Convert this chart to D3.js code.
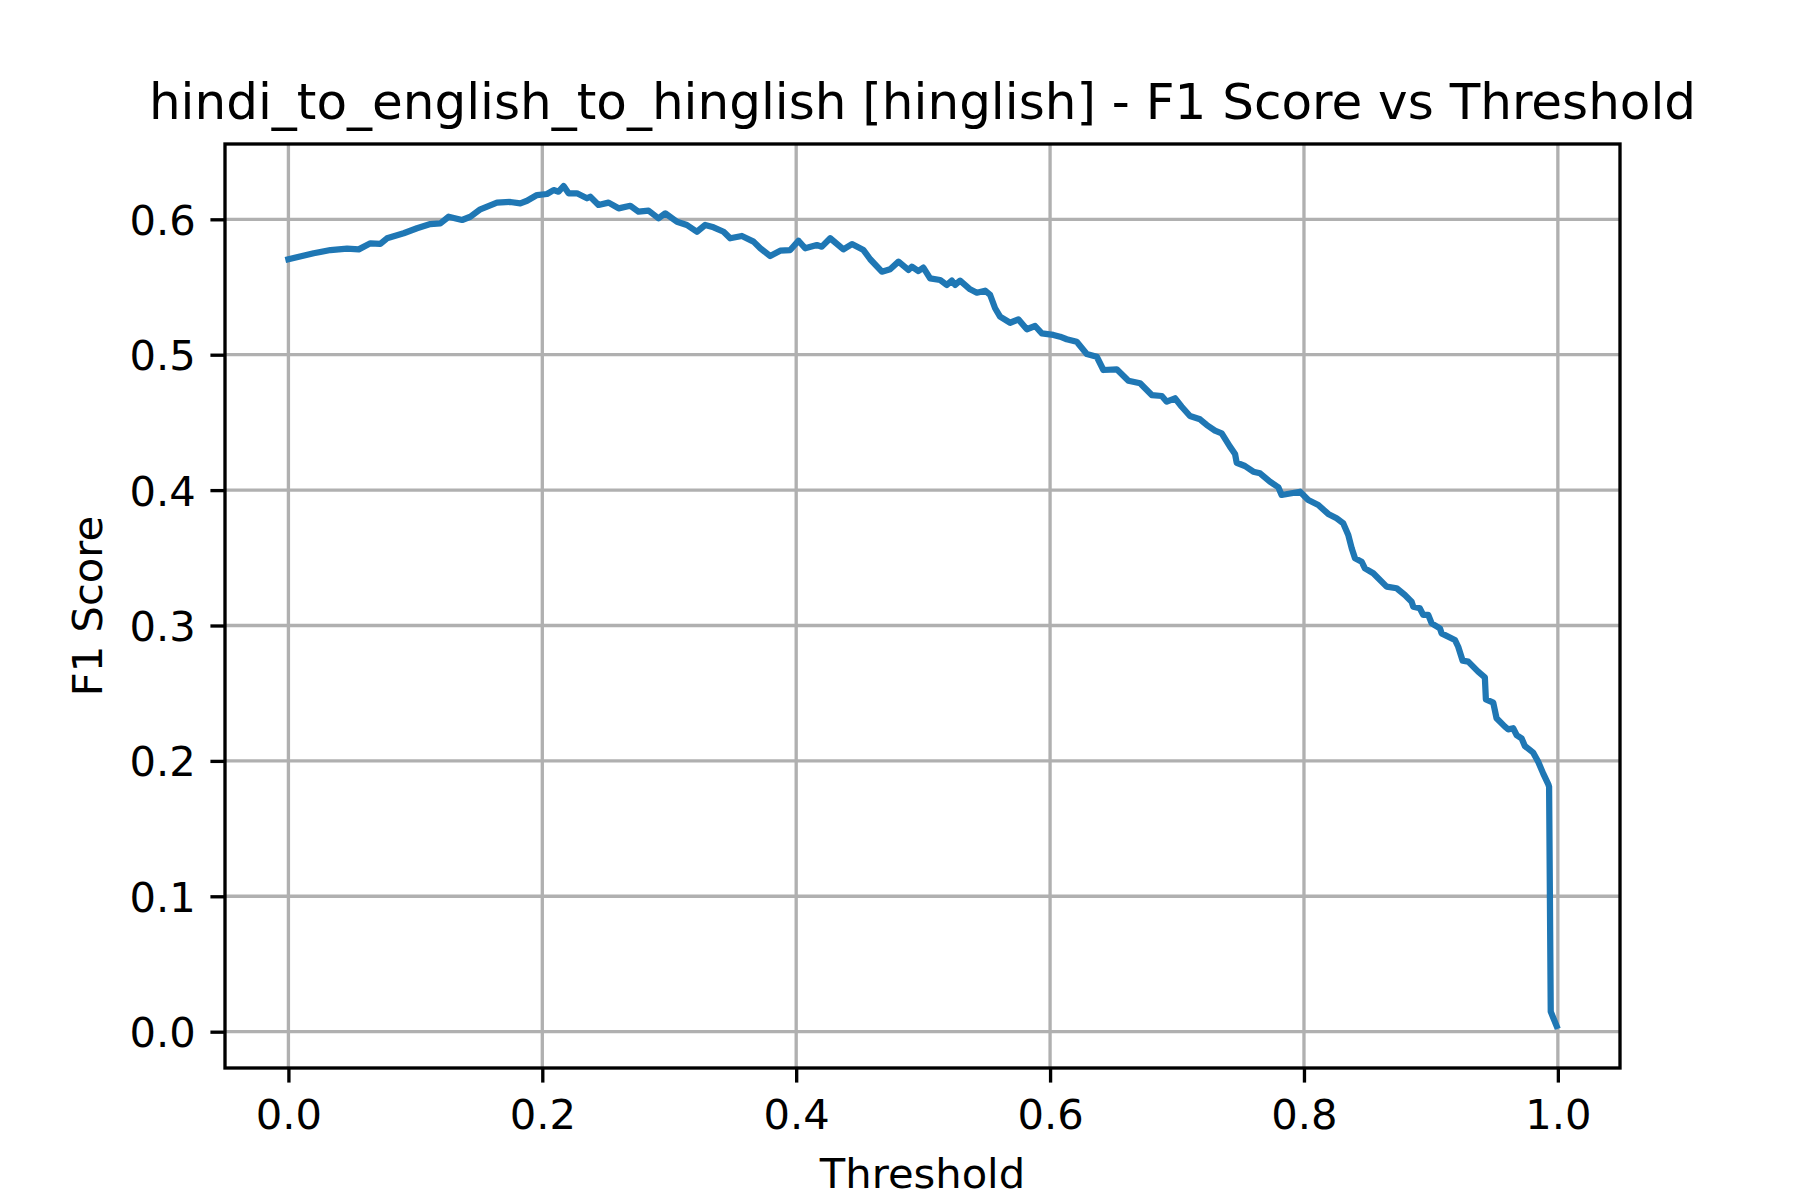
<!DOCTYPE html>
<html>
<head>
<meta charset="utf-8">
<script src="https://cdn.jsdelivr.net/npm/d3@7"></script>
<style>
  html, body { margin: 0; padding: 0; background: #fff; }
  svg { display: block; font-family: "DejaVu Sans", sans-serif; }
</style>
</head>
<body>
<svg id="chart" width="1800" height="1200"></svg>
<script>
// values
var thresholds = [
    0.0000, 0.0199, 0.0331, 0.0462, 0.0554, 0.0646, 0.0724, 0.0777, 0.0908, 0.1013,
    0.1118, 0.1197, 0.1262, 0.1368, 0.1433, 0.1512, 0.1643, 0.1748, 0.1827, 0.1880,
    0.1958, 0.2037, 0.2089, 0.2128, 0.2168, 0.2207, 0.2273, 0.2352, 0.2378, 0.2443,
    0.2522, 0.2601, 0.2693, 0.2758, 0.2837, 0.2916, 0.2969, 0.3061, 0.3139, 0.3218,
    0.3283, 0.3349, 0.3428, 0.3480, 0.3572, 0.3664, 0.3717, 0.3795, 0.3874, 0.3953,
    0.4018, 0.4071, 0.4163, 0.4202, 0.4268, 0.4372, 0.4439, 0.4530, 0.4583, 0.4675,
    0.4740, 0.4806, 0.4884, 0.4911, 0.4963, 0.5002, 0.5055, 0.5134, 0.5187, 0.5226,
    0.5252, 0.5291, 0.5370, 0.5423, 0.5488, 0.5528, 0.5567, 0.5606, 0.5685, 0.5750,
    0.5817, 0.5882, 0.5935, 0.6026, 0.6079, 0.6131, 0.6210, 0.6289, 0.6368, 0.6420,
    0.6525, 0.6617, 0.6709, 0.6801, 0.6880, 0.6919, 0.6984, 0.7037, 0.7102, 0.7181,
    0.7234, 0.7299, 0.7352, 0.7417, 0.7457, 0.7470, 0.7535, 0.7601, 0.7654, 0.7732,
    0.7798, 0.7824, 0.7969, 0.8034, 0.8113, 0.8191, 0.8257, 0.8309, 0.8349, 0.8376,
    0.8402, 0.8454, 0.8480, 0.8546, 0.8651, 0.8730, 0.8795, 0.8848, 0.8861, 0.8913,
    0.8939, 0.8979, 0.9006, 0.9071, 0.9084, 0.9189, 0.9215, 0.9250, 0.9294, 0.9372,
    0.9425, 0.9433, 0.9491, 0.9517, 0.9583, 0.9609, 0.9648, 0.9675, 0.9714, 0.9740,
    0.9806, 0.9845, 0.9884, 0.9924, 0.9931, 0.9944, 0.9990
];
var f1Scores = [
    0.5705, 0.5749, 0.5773, 0.5783, 0.5778, 0.5823, 0.5818, 0.5860, 0.5897, 0.5934,
    0.5965, 0.5970, 0.6019, 0.5995, 0.6019, 0.6074, 0.6123, 0.6128, 0.6118, 0.6137,
    0.6179, 0.6187, 0.6216, 0.6204, 0.6246, 0.6192, 0.6192, 0.6155, 0.6167, 0.6106,
    0.6123, 0.6081, 0.6100, 0.6056, 0.6064, 0.6007, 0.6044, 0.5982, 0.5958, 0.5908,
    0.5958, 0.5941, 0.5908, 0.5860, 0.5877, 0.5835, 0.5786, 0.5729, 0.5768, 0.5773,
    0.5842, 0.5786, 0.5810, 0.5798, 0.5860, 0.5778, 0.5817, 0.5773, 0.5705, 0.5613,
    0.5631, 0.5687, 0.5626, 0.5650, 0.5618, 0.5643, 0.5564, 0.5552, 0.5515, 0.5547,
    0.5515, 0.5547, 0.5483, 0.5458, 0.5473, 0.5441, 0.5343, 0.5281, 0.5236, 0.5261,
    0.5188, 0.5212, 0.5158, 0.5146, 0.5133, 0.5114, 0.5096, 0.5005, 0.4985, 0.4887,
    0.4892, 0.4808, 0.4789, 0.4702, 0.4695, 0.4653, 0.4678, 0.4616, 0.4547, 0.4523,
    0.4481, 0.4439, 0.4419, 0.4321, 0.4267, 0.4202, 0.4178, 0.4136, 0.4124, 0.4062,
    0.4021, 0.3964, 0.3988, 0.3927, 0.3890, 0.3824, 0.3792, 0.3755, 0.3669, 0.3570,
    0.3496, 0.3471, 0.3422, 0.3386, 0.3287, 0.3275, 0.3225, 0.3176, 0.3139, 0.3127,
    0.3078, 0.3078, 0.3016, 0.2979, 0.2942, 0.2893, 0.2843, 0.2740, 0.2733, 0.2659,
    0.2617, 0.2455, 0.2430, 0.2315, 0.2253, 0.2233, 0.2241, 0.2191, 0.2167, 0.2110,
    0.2061, 0.1994, 0.1908, 0.1829, 0.1809, 0.0148, 0.0042
];
var xTicks = [0, 0.2, 0.4, 0.6, 0.8, 1.0];
var yTicks = [0, 0.1, 0.2, 0.3, 0.4, 0.5, 0.6];

var title = "hindi_to_english_to_hinglish [hinglish] - F1 Score vs Threshold";

(function () {
    var width = 1800,
        height = 1200,
        margin = {left: 225, right: 180, top: 144, bottom: 132},
        pt = 300 / 72;   // px per point at 300 dpi

    var points = thresholds.map(function (t, i) {
        return {x: t, y: f1Scores[i]};
    });

    // matplotlib-style 5% margins around the data
    function padded(ext) {
        var d = (ext[1] - ext[0]) * 0.05;
        return [ext[0] - d, ext[1] + d];
    }

    var x = d3.scaleLinear()
        .domain(padded(d3.extent(thresholds)))
        .range([margin.left, width - margin.right]);
    var y = d3.scaleLinear()
        .domain(padded(d3.extent(f1Scores)))
        .range([height - margin.bottom, margin.top]);

    var svg = d3.select("#chart");

    svg.append("rect")
        .attr("width", width)
        .attr("height", height)
        .style("fill", "#fff");

    // grid
    var grid = svg.append("g").attr("class", "grid")
        .style("stroke", "#b0b0b0")
        .style("stroke-width", 0.8 * pt);
    grid.selectAll(".gx").data(xTicks).enter().append("line")
        .attr("x1", function (d) { return x(d); })
        .attr("x2", function (d) { return x(d); })
        .attr("y1", margin.top)
        .attr("y2", height - margin.bottom);
    grid.selectAll(".gy").data(yTicks).enter().append("line")
        .attr("x1", margin.left)
        .attr("x2", width - margin.right)
        .attr("y1", function (d) { return y(d); })
        .attr("y2", function (d) { return y(d); });

    // curve
    var line = d3.line()
        .x(function (d) { return x(d.x); })
        .y(function (d) { return y(d.y); });

    svg.append("path")
        .datum(points)
        .attr("d", line)
        .style("fill", "none")
        .style("stroke", "#1f77b4")
        .style("stroke-width", 1.5 * pt)
        .style("stroke-linejoin", "round")
        .style("stroke-linecap", "square");

    // axes
    var fmt = d3.format(".1f");
    var xAxis = d3.axisBottom(x)
        .tickValues(xTicks)
        .tickFormat(fmt)
        .tickSize(3.5 * pt)
        .tickPadding(3.5 * pt);
    var yAxis = d3.axisLeft(y)
        .tickValues(yTicks)
        .tickFormat(fmt)
        .tickSize(3.5 * pt)
        .tickPadding(3.5 * pt);

    var gx = svg.append("g")
        .attr("transform", "translate(0," + (height - margin.bottom) + ")")
        .call(xAxis);
    var gy = svg.append("g")
        .attr("transform", "translate(" + margin.left + ",0)")
        .call(yAxis);

    [gx, gy].forEach(function (g) {
        g.select(".domain").remove();
        g.selectAll(".tick line")
            .style("stroke", "#000")
            .style("stroke-width", 0.8 * pt);
        g.selectAll(".tick text")
            .style("font-family", "'DejaVu Sans', sans-serif")
            .style("font-size", (10 * pt) + "px")
            .style("fill", "#000");
    });
    gx.selectAll(".tick text").attr("dy", "0.76em");
    gy.selectAll(".tick text").attr("dy", "0.36em");

    // frame
    svg.append("rect")
        .attr("x", margin.left)
        .attr("y", margin.top)
        .attr("width", width - margin.left - margin.right)
        .attr("height", height - margin.top - margin.bottom)
        .style("fill", "none")
        .style("stroke", "#000")
        .style("stroke-width", 0.8 * pt);

    // labels
    svg.append("text")
        .attr("x", (margin.left + width - margin.right) / 2)
        .attr("y", 119)
        .attr("text-anchor", "middle")
        .style("font-size", (12 * pt) + "px")
        .text(title);

    svg.append("text")
        .attr("x", (margin.left + width - margin.right) / 2)
        .attr("y", 1188)
        .attr("text-anchor", "middle")
        .style("font-size", (10 * pt) + "px")
        .text("Threshold");

    svg.append("text")
        .attr("transform", "translate(102," + ((margin.top + height - margin.bottom) / 2) + ") rotate(-90)")
        .attr("text-anchor", "middle")
        .style("font-size", (10 * pt) + "px")
        .text("F1 Score");
}());
</script>
</body>
</html>
